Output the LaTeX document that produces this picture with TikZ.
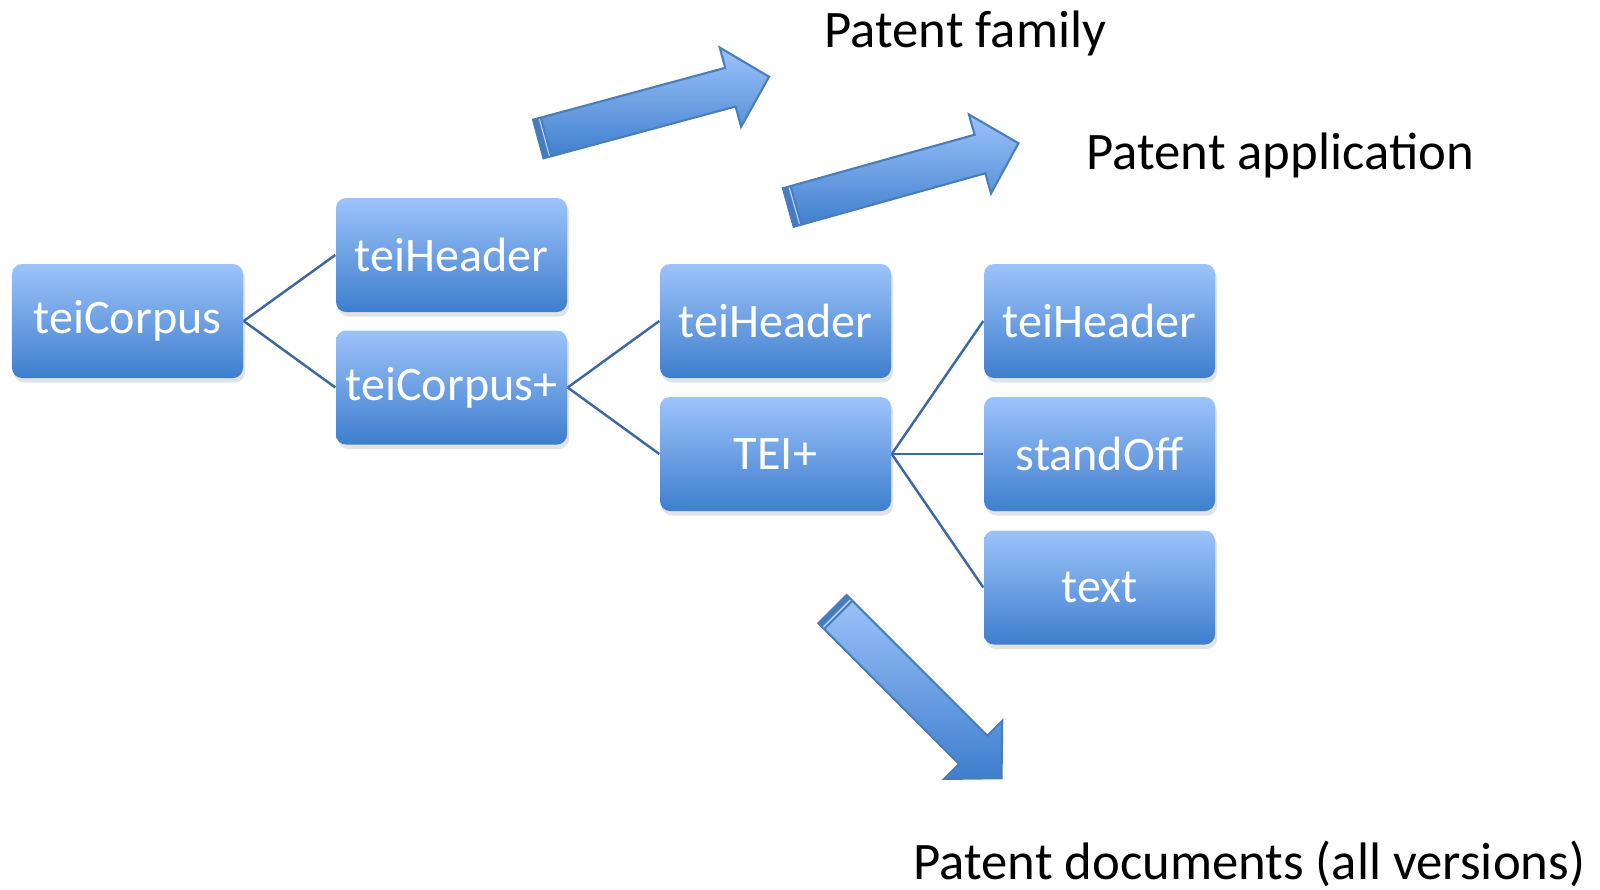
\documentclass[tikz,border=0pt]{standalone}
\usepackage{fontspec}
\setmainfont{Carlito}
\usetikzlibrary{shadows}
\definecolor{boxtop}{RGB}{157,195,250}
\definecolor{boxbot}{RGB}{62,126,205}
\definecolor{linkblue}{RGB}{62,104,162}
\definecolor{arrowedge}{RGB}{74,126,187}
\definecolor{stripe}{RGB}{72,122,190}
\tikzset{
	elem/.style={rectangle, rounded corners=0.1cm, top color=boxtop, bottom color=boxbot,
		minimum width=2.31cm, minimum height=1.14cm, inner sep=0pt, text=white,
		font=\fontsize{13.7}{16}\selectfont,
		drop shadow={opacity=0.22, shadow xshift=0.02cm, shadow yshift=-0.045cm}},
	link/.style={draw=linkblue, line width=0.7pt},
	lab/.style={anchor=base west, inner sep=0pt, font=\fontsize{15}{18}\selectfont},
	bigarrow/.pic={
		\draw [arrowedge, line width=0.6pt, top color=boxtop, bottom color=boxbot]
			(0,-0.2) -- (1.99,-0.2) -- (1.99,-0.41) -- (2.39,0) -- (1.99,0.41) -- (1.99,0.2) -- (0,0.2) -- cycle;
		\fill [stripe] (0,-0.2) rectangle (0.05,0.2);
		\draw [boxtop!70!white, line width=0.4pt] (0.065,-0.19) -- (0.065,0.19);
		\draw [arrowedge, line width=0.6pt] (0.08,-0.2) -- (0.08,0.2);
	}
}
\begin{document}
\begin{tikzpicture}
	\useasboundingbox (0,0) rectangle (16,-8.89);
	\pic [rotate=15.1] at (5.383,-1.39) {bigarrow};
	\pic [rotate=15.6] at (7.883,-2.075) {bigarrow};
	\pic [rotate=-45] at (8.325,-6.092) {bigarrow};
	\node [elem] (corpus) at (1.275,-3.21) {teiCorpus};
	\node [elem] (hdrA) at (4.515,-2.55) {teiHeader};
	\node [elem] (subcorpus) at (4.515,-3.875) {teiCorpus+};
	\node [elem] (hdrB) at (7.755,-3.21) {teiHeader};
	\node [elem] (tei) at (7.755,-4.54) {TEI+};
	\node [elem] (hdrC) at (10.995,-3.21) {teiHeader};
	\node [elem] (standoff) at (10.995,-4.54) {standOff};
	\node [elem] (body) at (10.995,-5.875) {text};
	\foreach \t in {hdrA,subcorpus}
	\draw [link] (corpus.east) -- (\t.west);
	\foreach \t in {hdrB,tei}
	\draw [link] (subcorpus.east) -- (\t.west);
	\foreach \t in {hdrC,standoff,body}
	\draw [link] (tei.east) -- (\t.west);
	\node [lab] (famlab) at (8.24,-0.47) {Patent family};
	\node [lab] (applab) at (10.86,-1.69) {Patent application};
	\node [lab] (doclab) at (9.13,-8.79) {Patent documents (all versions)};
\end{tikzpicture}
\end{document}
